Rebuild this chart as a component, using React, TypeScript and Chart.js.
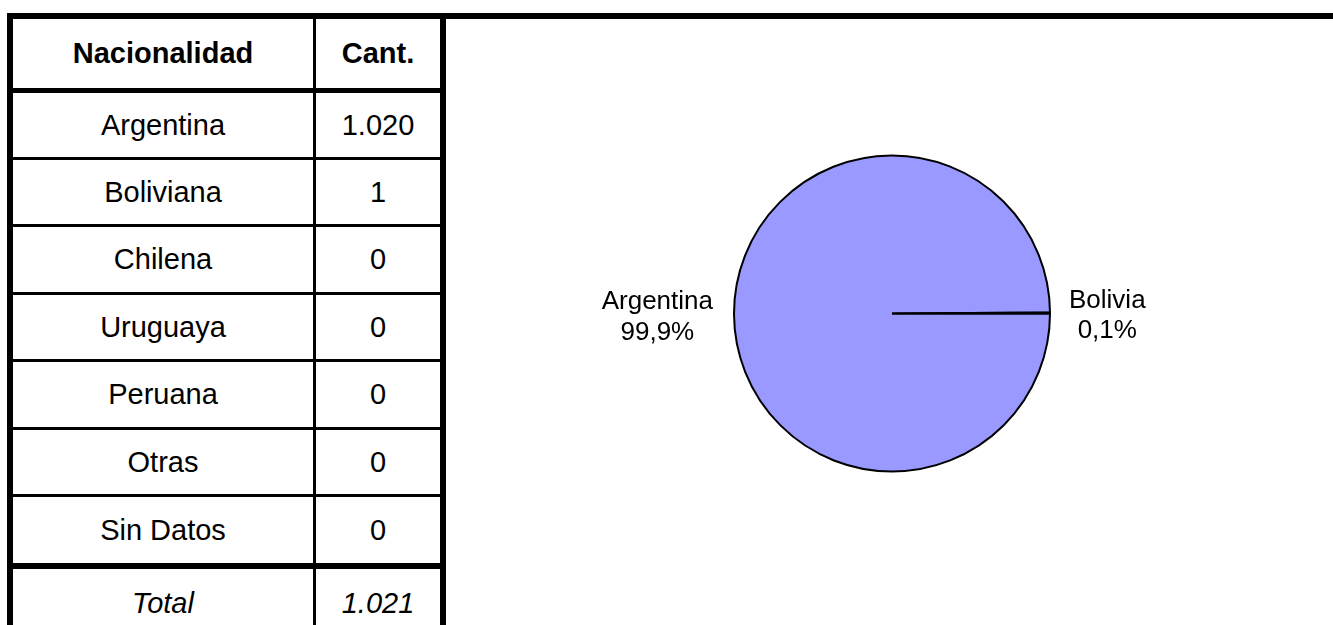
import React, { useEffect, useRef } from "react";
import { Chart, registerables } from "chart.js";

Chart.register(...registerables);

// ---- data ----
const headerLabels = ["Nacionalidad", "Cant."];
const nationalities = ["Argentina", "Boliviana", "Chilena", "Uruguaya", "Peruana", "Otras", "Sin Datos"];
const counts = [1020, 1, 0, 0, 0, 0, 0];
const totalLabel = "Total";
const pieLabels = ["Argentina", "Bolivia"];
const pieValues = [1020, 1];
const pieColors = ["#9999FF", "#993366"];

const FONT = '"Liberation Sans", Arial, Helvetica, sans-serif';

function fmtThousands(n: number): string {
  return String(n).replace(/\B(?=(\d{3})+(?!\d))/g, ".");
}

function fmtPct(v: number, total: number): string {
  return ((v / total) * 100).toFixed(1).replace(".", ",") + "%";
}

const labelPlugin = {
  id: "pieOutsideLabels",
  afterDatasetsDraw(chart: any) {
    const ctx = chart.ctx as CanvasRenderingContext2D;
    const meta = chart.getDatasetMeta(0);
    const total = pieValues.reduce((a, b) => a + b, 0);
    ctx.save();
    ctx.font = `26px ${FONT}`;
    ctx.fillStyle = "#000000";
    ctx.textAlign = "center";
    ctx.textBaseline = "alphabetic";
    meta.data.forEach((arc: any, i: number) => {
      const p = arc.getProps(["x", "y", "startAngle", "endAngle", "outerRadius"], true);
      const mid = (p.startAngle + p.endAngle) / 2;
      const left = Math.cos(mid) < 0;
      const gap = left ? 21 : 19;
      const line1 = pieLabels[i];
      const line2 = fmtPct(pieValues[i], total);
      const w = Math.max(ctx.measureText(line1).width, ctx.measureText(line2).width);
      const ax = p.x + (p.outerRadius + gap) * Math.cos(mid);
      const ay = p.y + (p.outerRadius + gap) * Math.sin(mid);
      const cx = left ? ax - w / 2 : ax + w / 2;
      ctx.fillText(line1, cx, ay - 5);
      ctx.fillText(line2, cx, ay + 25.5);
    });
    ctx.restore();
  },
};

function PieChart() {
  const ref = useRef<HTMLCanvasElement | null>(null);
  useEffect(() => {
    if (!ref.current) return;
    const chart = new Chart(ref.current, {
      type: "pie",
      data: {
        labels: pieLabels,
        datasets: [
          {
            data: pieValues,
            backgroundColor: pieColors,
            borderColor: "#000000",
            borderWidth: 2,
          },
        ],
      },
      options: {
        animation: false,
        responsive: true,
        maintainAspectRatio: false,
        rotation: 90,
        radius: 158,
        layout: { padding: { left: 4, right: 0, top: 0, bottom: 17 } },
        plugins: {
          legend: { display: false },
          tooltip: { enabled: false },
        },
        events: [],
      } as any,
      plugins: [labelPlugin],
    });
    return () => chart.destroy();
  }, []);
  return (
    <div style={{ position: "absolute", left: 447, top: 19, width: 886, height: 606 }}>
      <canvas ref={ref} />
    </div>
  );
}

function Line({ x, y, w, h }: { x: number; y: number; w: number; h: number }) {
  return <div style={{ position: "absolute", left: x, top: y, width: w, height: h, background: "#000" }} />;
}

function Cell({ x, y, w, h, text, bold, italic }: { x: number; y: number; w: number; h: number; text: string; bold?: boolean; italic?: boolean }) {
  return (
    <div
      style={{
        position: "absolute",
        left: x,
        top: y,
        width: w,
        height: h,
        display: "flex",
        alignItems: "center",
        justifyContent: "center",
        fontFamily: FONT,
        fontSize: 29,
        fontWeight: bold ? "bold" : "normal",
        fontStyle: italic ? "italic" : "normal",
        color: "#000",
        whiteSpace: "nowrap",
      }}
    >
      {text}
    </div>
  );
}

export default function App() {
  const col1 = { x: 13, w: 300 };
  const col2 = { x: 316, w: 124 };
  const rowTops = [93, 160, 227, 295, 362, 430, 497];
  const rowBottoms = [157, 224, 292, 359, 427, 494, 563];
  const total = counts.reduce((a, b) => a + b, 0);

  const cells: React.ReactNode[] = [];
  cells.push(<Cell key="h1" x={col1.x} y={19} w={col1.w} h={69} text={headerLabels[0]} bold />);
  cells.push(<Cell key="h2" x={col2.x} y={19} w={col2.w} h={69} text={headerLabels[1]} bold />);
  nationalities.forEach((n, i) => {
    const y = rowTops[i];
    const h = rowBottoms[i] - rowTops[i];
    cells.push(<Cell key={"n" + i} x={col1.x} y={y} w={col1.w} h={h} text={n} />);
    cells.push(<Cell key={"c" + i} x={col2.x} y={y} w={col2.w} h={h} text={fmtThousands(counts[i])} />);
  });
  cells.push(<Cell key="t1" x={col1.x} y={569} w={col1.w} h={68} text={totalLabel} italic />);
  cells.push(<Cell key="t2" x={col2.x} y={569} w={col2.w} h={68} text={fmtThousands(total)} italic />);

  const lines: React.ReactNode[] = [];
  lines.push(<Line key="top" x={7} y={13} w={1326} h={6} />);
  lines.push(<Line key="left" x={7} y={13} w={6} h={612} />);
  lines.push(<Line key="right" x={440} y={13} w={6} h={612} />);
  lines.push(<Line key="mid" x={313} y={19} w={3} h={606} />);
  lines.push(<Line key="hb" x={7} y={88} w={439} h={5} />);
  rowBottoms.slice(0, 6).forEach((yb, i) => {
    lines.push(<Line key={"r" + i} x={7} y={yb} w={439} h={3} />);
  });
  lines.push(<Line key="tt" x={7} y={563} w={439} h={6} />);

  return (
    <div
      style={{
        position: "absolute",
        left: 0,
        top: 0,
        width: 1333,
        height: 625,
        overflow: "hidden",
        background: "#ffffff",
      }}
    >
      {cells}
      {lines}
      <PieChart />
    </div>
  );
}
